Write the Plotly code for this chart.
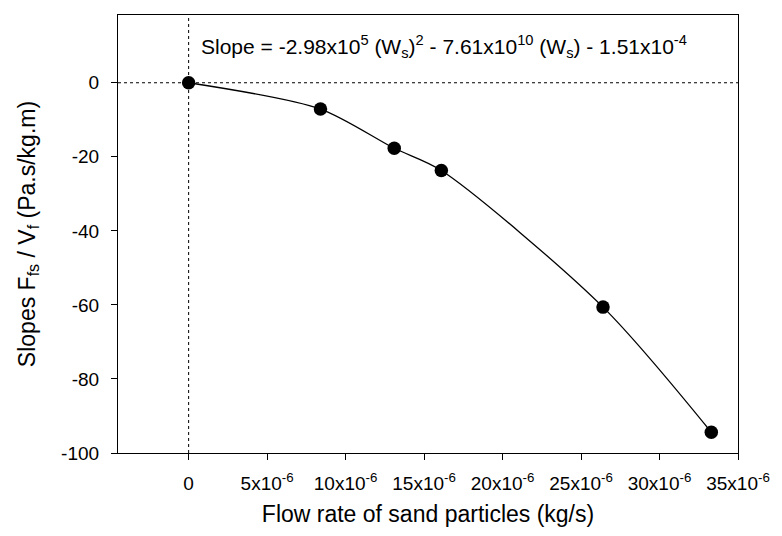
import plotly.graph_objects as go

# Data
flow_rate = [0.0, 8.4e-6, 13.1e-6, 16.1e-6, 26.4e-6, 33.3e-6]
slopes = [0.0, -7.1, -17.7, -23.7, -60.6, -94.4]

x_tickvals = [0, 5e-6, 10e-6, 15e-6, 20e-6, 25e-6, 30e-6, 35e-6]
x_ticktext = ["0", "5x10<sup>-6</sup>", "10x10<sup>-6</sup>", "15x10<sup>-6</sup>",
              "20x10<sup>-6</sup>", "25x10<sup>-6</sup>", "30x10<sup>-6</sup>", "35x10<sup>-6</sup>"]
y_tickvals = [0, -20, -40, -60, -80, -100]
y_ticktext = ["0", "-20", "-40", "-60", "-80", "-100"]

equation = ("Slope = -2.98x10<sup>5</sup> (W<sub>s</sub>)<sup>2</sup> - 7.61x10<sup>10</sup> "
            "(W<sub>s</sub>) - 1.51x10<sup>-4</sup>")

font_family = "Liberation Sans, Arial, sans-serif"

fig = go.Figure()
fig.add_trace(go.Scatter(
    x=flow_rate, y=slopes, mode="lines+markers",
    line=dict(color="black", width=1.3, shape="spline", smoothing=0.8),
    marker=dict(color="black", size=13.5),
    showlegend=False,
))

# dotted reference lines at zero
fig.add_shape(type="line", xref="paper", x0=0, x1=1, yref="y", y0=0, y1=0,
              line=dict(color="black", width=1, dash="dot"))
fig.add_shape(type="line", xref="x", x0=0, x1=0, yref="paper", y0=0, y1=1,
              line=dict(color="black", width=1, dash="dot"))

fig.add_annotation(text=equation, xref="paper", yref="paper", x=0.13, y=0.928,
                   xanchor="left", yanchor="middle", showarrow=False,
                   font=dict(family=font_family, size=21, color="black"))

fig.update_layout(
    width=782, height=536,
    margin=dict(l=118, r=39, t=15, b=83),
    paper_bgcolor="white", plot_bgcolor="white",
    font=dict(family=font_family, size=19, color="black"),
    xaxis=dict(range=[-4.5e-6, 35e-6], tickvals=x_tickvals, ticktext=x_ticktext,
               showgrid=False, zeroline=False, showline=True, linecolor="black",
               linewidth=1.2, mirror=True, ticks="outside", ticklen=6, tickcolor="black",
               tickfont=dict(size=19), ticklabelstandoff=7,
               title=dict(text="Flow rate of sand particles (kg/s)", font=dict(size=23),
                          standoff=12)),
    yaxis=dict(range=[-100, 18.3], tickvals=y_tickvals, ticktext=y_ticktext,
               showgrid=False, zeroline=False, showline=True, linecolor="black",
               linewidth=1.2, mirror=True, ticks="outside", ticklen=6, tickcolor="black",
               tickfont=dict(size=19), ticklabelstandoff=8,
               title=dict(text="Slopes F<sub>fs</sub> / V<sub>f</sub> (Pa.s/kg.m)",
                          font=dict(size=23), standoff=19)),
)

fig.write_html("out.html")
